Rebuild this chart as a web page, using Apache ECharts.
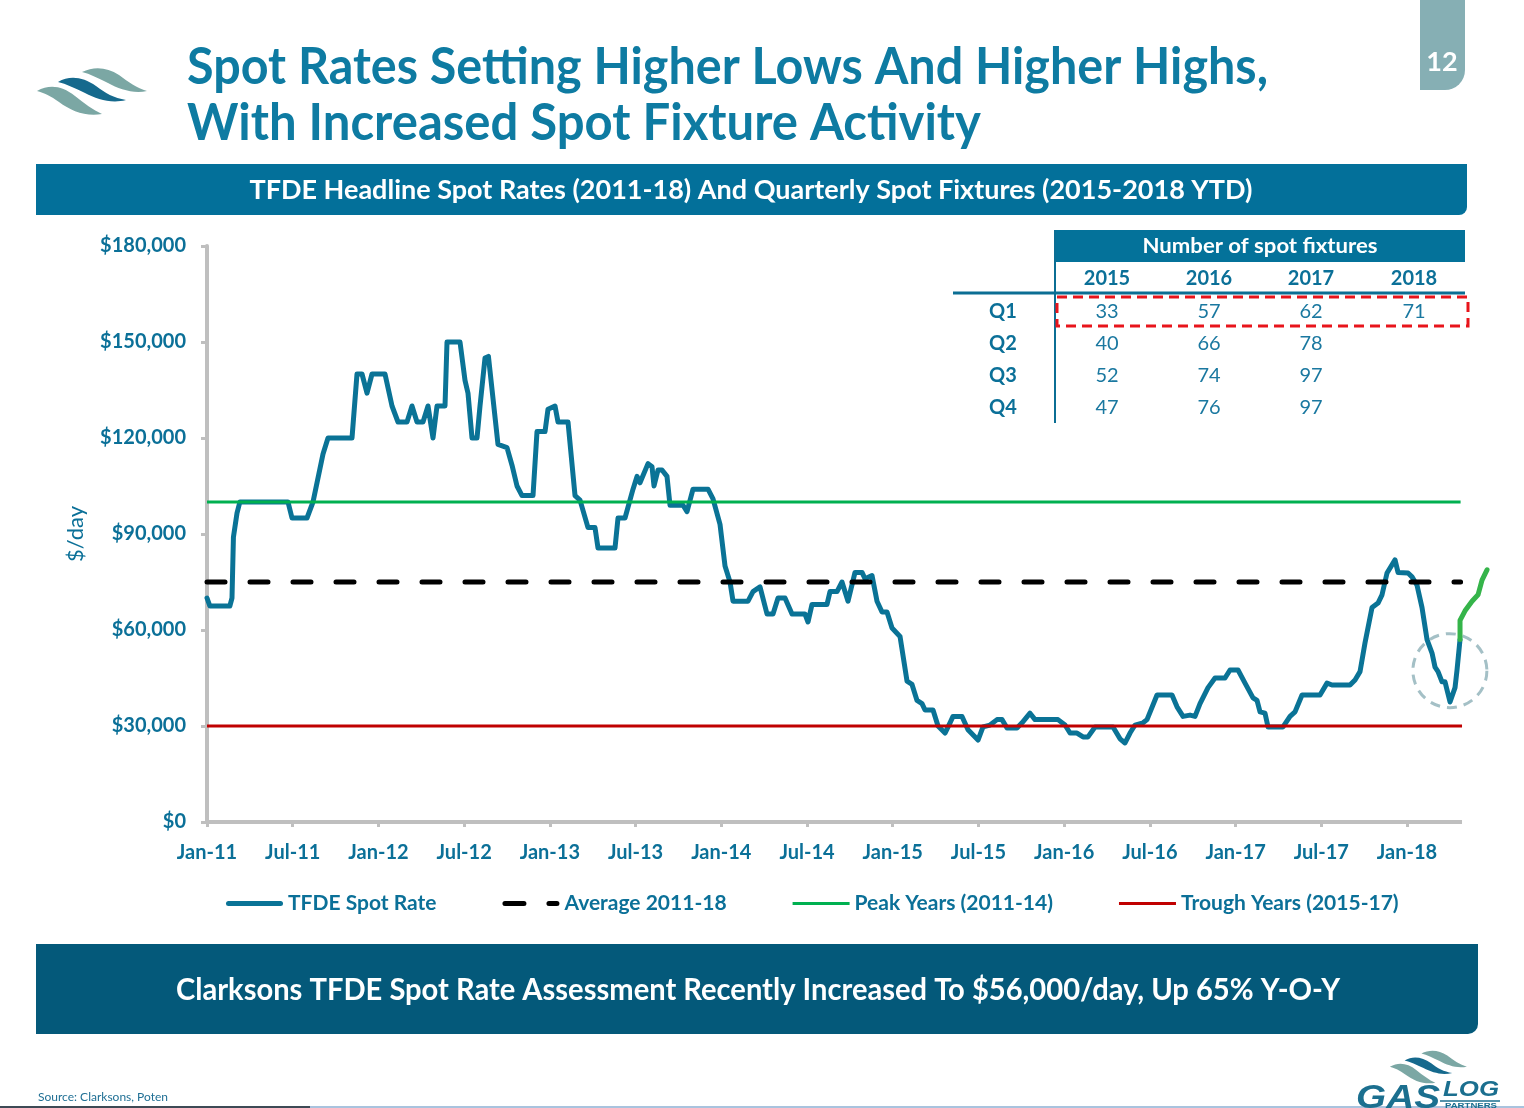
<!DOCTYPE html>
<html>
<head>
<meta charset="utf-8">
<script src="https://cdn.jsdelivr.net/npm/echarts@6/dist/echarts.min.js"></script>
<style>
html,body{margin:0;padding:0;background:#fff;}
#chart{width:1524px;height:1108px;}
</style>
</head>
<body>
<div id="chart"></div>
<script>
// ---------- DATA ----------
const titleLine1 = 'Spot Rates Setting Higher Lows And Higher Highs,';
const titleLine2 = 'With Increased Spot Fixture Activity';
const bannerText = 'TFDE Headline Spot Rates (2011-18) And Quarterly Spot Fixtures (2015-2018 YTD)';
const footerText = 'Clarksons TFDE Spot Rate Assessment Recently Increased To $56,000/day, Up 65% Y-O-Y';
const sourceText = 'Source: Clarksons, Poten';
const pageNumber = '12';

// x axis: months since Jan-2011
const xTickLabels = ['Jan-11','Jul-11','Jan-12','Jul-12','Jan-13','Jul-13','Jan-14','Jul-14','Jan-15','Jul-15','Jan-16','Jul-16','Jan-17','Jul-17','Jan-18'];
const yTickValues = [0, 30000, 60000, 90000, 120000, 150000, 180000];

const spotMonths = [0,0.2,1.6,1.75,1.85,2.1,2.3,5.67,5.95,7.0,7.42,8.12,8.47,10.15,10.5,10.85,11.2,11.55,12.46,12.95,13.37,14.0,14.35,14.7,15.12,15.47,15.82,16.1,16.66,16.8,17.71,18.06,18.27,18.55,18.9,19.11,19.46,19.7,20.37,21.0,21.35,21.7,22.05,22.82,23.1,23.66,23.87,24.36,24.57,25.27,25.76,26.11,26.67,27.16,27.37,28.56,28.77,29.26,29.82,30.1,30.31,30.87,31.15,31.29,31.57,31.85,32.2,32.41,33.32,33.6,34.02,35.07,35.42,35.91,36.26,36.61,36.82,37.87,38.22,38.71,39.2,39.62,39.97,40.46,40.95,41.86,42.07,42.35,43.4,43.61,44.1,44.45,44.87,45.36,45.85,46.06,46.55,46.9,47.25,47.6,47.95,48.51,49.0,49.35,49.7,50.05,50.26,50.82,51.17,51.66,52.01,52.22,52.85,53.27,53.97,54.32,54.81,55.3,55.65,56.0,56.7,57.05,57.61,57.96,59.57,60.06,60.41,60.9,61.32,61.67,62.16,63.42,63.91,64.26,64.61,64.96,65.52,65.8,66.5,67.55,67.9,68.32,68.81,69.16,69.51,70.07,70.56,71.26,71.61,72.17,72.66,73.22,73.5,73.71,74.06,74.27,75.32,75.81,76.16,76.65,77.91,78.4,78.75,80.01,80.36,80.71,81.06,81.55,81.97,82.25,82.6,83.16,83.37,84.07,84.35,84.7,85.05,85.4,85.75,85.96,86.17,86.45,86.66,87.01,87.36,87.5,87.71];
const spotValues = [70000,67500,67500,70000,89000,96500,100000,100000,95000,95000,100000,115000,120000,120000,140000,140000,134000,140000,140000,130000,125000,125000,130000,125000,125000,130000,120000,130000,130000,150000,150000,138000,134000,120000,120000,130000,145000,145500,118000,117000,111500,105000,102000,102000,122000,122000,129000,130000,125000,125000,102000,100600,92000,92000,85600,85600,95000,95000,104000,108000,106000,112000,111000,105000,110000,110000,108000,99000,99000,97000,104000,104000,101000,93000,80000,75000,69000,69000,72000,73500,65000,65000,70000,70000,65000,65000,62500,68000,68000,72000,72000,75000,69000,78000,78000,76000,77000,69000,65600,65600,60600,58000,44000,43000,38000,37000,35000,35000,30000,27800,31000,33000,33000,28800,25600,29700,30300,32000,32000,29400,29400,31000,34000,32000,32000,30300,27800,27800,26600,26600,29700,29700,26000,24700,27800,30300,31000,32000,39700,39700,36000,33000,33400,33000,37000,42000,45000,45000,47500,47500,43400,38800,38000,34400,34000,29700,29700,33000,34400,39700,39700,43400,42800,42800,44400,47000,56000,67000,68400,71000,77800,81900,78000,77800,76600,74000,67000,57000,52800,48400,47000,43800,43800,37500,42000,47500,57000];

// recent (2018 YTD) segment highlighted in green
const recentMonths = [87.71,87.71,88.06,88.55,88.97,89.25,89.6];
const recentValues = [57000,63000,66000,69000,71000,75600,78800];

const averageValue = 75000;   // Average 2011-18
const peakValue = 100000;     // Peak Years (2011-14)
const troughValue = 30000;    // Trough Years (2015-17)
const xStart = 0, lineEnd = 87.85, xEnd = 89.7;

const circleMonth = 87.0, circleValue = 47300;

// table: number of spot fixtures
const fixtureYears = ['2015','2016','2017','2018'];
const fixtureQuarters = ['Q1','Q2','Q3','Q4'];
const fixtures2015 = [33,40,52,47];
const fixtures2016 = [57,66,74,76];
const fixtures2017 = [62,78,97,97];
const fixtures2018 = [71];

const legendNames = ['TFDE Spot Rate','Average 2011-18','Peak Years (2011-14)','Trough Years (2015-17)'];

// ---------- STYLE ----------
const FONT = 'Lato, "Open Sans", sans-serif';
const TEAL = '#0b7098';
const TITLE = '#0e7ba2';
const LINE = '#0a7396';

const measureCtx = document.createElement('canvas').getContext('2d');
function fit(text, font, target) {
  measureCtx.font = font;
  return target / measureCtx.measureText(text).width;
}
function txt(x, y, text, o) {
  o = o || {};
  const fam = o.family || FONT;
  const el = {
    type: 'text', x: x, y: y, z: o.z || 10,
    style: {
      text: text, fontSize: o.size || 20, fontWeight: o.weight || 'normal', fontFamily: fam,
      fontStyle: o.italic ? 'italic' : 'normal',
      fill: o.color || TEAL, textAlign: o.align || 'left',
      textVerticalAlign: o.va || 'middle'
    }
  };
  if (o.fitWidth) {
    const f = (o.italic ? 'italic ' : '') + (o.weight || 'normal') + ' ' + (o.size || 20) + 'px ' + fam;
    el.scaleX = fit(text, f, o.fitWidth);
  }
  return el;
}

const zip = (a, b) => a.map((v, i) => [v, b[i]]);

// logo wave shapes registered as custom shapes
echarts.graphic.registerShape('waveLow', echarts.graphic.extendPath('M37,91 C50,84 62,86 75,96 C84,103 93,110 102,114 C86,117 71,111 59,102 C51,96 44,93 37,91 Z', {}));
echarts.graphic.registerShape('waveMid', echarts.graphic.extendPath('M58,82 C70,75 83,77 96,86 C105,93 114,98 126,100 C111,104 97,99 85,93 C75,88 66,84 58,82 Z', {}));
echarts.graphic.registerShape('waveTop', echarts.graphic.extendPath('M82,72 C94,66 107,67 119,75 C128,82 137,88 147,91 C133,94 119,89 108,83 C98,78 90,74 82,72 Z', {}));

// ---------- GRAPHICS ----------
const graphics = [];

function waves(dx, dy, s) {
  return {
    type: 'group', x: dx, y: dy, scaleX: s, scaleY: s,
    children: [
      { type: 'waveLow', shape: {}, style: { fill: '#7ba7a4' } },
      { type: 'waveMid', shape: {}, style: { fill: '#15698d' } },
      { type: 'waveTop', shape: {}, style: { fill: '#7ba7a4' } }
    ]
  };
}
graphics.push(waves(0, 0, 1));

// title
graphics.push(txt(187, 67, titleLine1, { size: 52, weight: 'bold', color: TITLE, fitWidth: 1081 }));
graphics.push(txt(187, 123, titleLine2, { size: 52, weight: 'bold', color: TITLE, fitWidth: 794 }));

// page number tab
graphics.push({ type: 'rect', shape: { x: 1420, y: 0, width: 45, height: 90, r: [0, 0, 20, 0] }, style: { fill: '#86afb4' } });
graphics.push(txt(1442, 62, pageNumber, { size: 27, weight: 'bold', color: '#ffffff', align: 'center' }));

// chart header banner
graphics.push({ type: 'rect', shape: { x: 36, y: 164, width: 1431, height: 51, r: [0, 0, 8, 0] }, style: { fill: '#03709a' } });
graphics.push(txt(751, 190, bannerText, { size: 27, weight: 'bold', color: '#ffffff', align: 'center', fitWidth: 1003 }));

// fixtures table
graphics.push({ type: 'rect', shape: { x: 1055, y: 230, width: 410, height: 32 }, style: { fill: '#04729a' } });
graphics.push(txt(1260, 246, 'Number of spot fixtures', { size: 21, weight: 'bold', color: '#ffffff', align: 'center', fitWidth: 235 }));
const colX = [1107, 1209, 1311, 1414];
const rowY = [312, 344, 376, 408];
fixtureYears.forEach((y, i) => graphics.push(txt(colX[i], 279, y, { size: 20, weight: 'bold', align: 'center' })));
fixtureQuarters.forEach((q, i) => graphics.push(txt(1003, rowY[i], q, { size: 20, weight: 'bold', align: 'center' })));
[fixtures2015, fixtures2016, fixtures2017, fixtures2018].forEach((arr, c) => {
  arr.forEach((v, r) => graphics.push(txt(colX[c], rowY[r], String(v), { size: 20, color: '#1a78a0', align: 'center' })));
});
graphics.push({ type: 'line', shape: { x1: 953, y1: 293, x2: 1465, y2: 293 }, style: { stroke: '#0b6e94', lineWidth: 3 } });
graphics.push({ type: 'line', shape: { x1: 1055, y1: 230, x2: 1055, y2: 423 }, style: { stroke: '#0b6e94', lineWidth: 2 } });
graphics.push({ type: 'rect', shape: { x: 1057, y: 297, width: 411, height: 29 }, style: { fill: 'none', stroke: '#e8141b', lineWidth: 3, lineDash: [10, 6] } });

// footer banner
graphics.push({ type: 'rect', shape: { x: 36, y: 944, width: 1442, height: 90, r: [0, 0, 10, 0] }, style: { fill: '#04597a' } });
graphics.push(txt(758, 990, footerText, { size: 30, weight: 'bold', color: '#ffffff', align: 'center', fitWidth: 1164 }));

// source
graphics.push(txt(38, 1097, sourceText, { size: 12, color: '#1f6f94' }));

// bottom rule
graphics.push({ type: 'line', shape: { x1: 0, y1: 1107, x2: 310, y2: 1107 }, style: { stroke: '#3e4a55', lineWidth: 2 } });
graphics.push({ type: 'line', shape: { x1: 310, y1: 1107, x2: 1524, y2: 1107 }, style: { stroke: '#a9c3de', lineWidth: 2 } });

// GasLog Partners logo (bottom-right)
graphics.push(waves(1364, 1003, 0.7));
graphics.push(txt(1356, 1116, 'GAS', { size: 34, weight: 'bold', italic: true, family: '"Liberation Sans", sans-serif', color: '#1b6f8f', va: 'bottom', fitWidth: 84 }));
graphics.push(txt(1443, 1101, 'LOG', { size: 22, weight: 'bold', italic: true, family: '"Liberation Sans", sans-serif', color: '#1b6f8f', va: 'bottom', fitWidth: 56 }));
graphics.push({ type: 'line', shape: { x1: 1440, y1: 1101, x2: 1500, y2: 1101 }, style: { stroke: '#1b6f8f', lineWidth: 1.5 } });
graphics.push(txt(1445, 1106, 'PARTNERS', { size: 7, weight: 'bold', family: '"Liberation Sans", sans-serif', color: '#1b6f8f', fitWidth: 52 }));

// ---------- CHART ----------
const chart = echarts.init(document.getElementById('chart'));
const axisGray = '#bfbfbf';
const xTickVals = xTickLabels.map((_, i) => i * 6);
const gridLeft = 207, pxPerMonth = 14.286;

const option = {
  animation: false,
  backgroundColor: '#ffffff',
  grid: { left: gridLeft, right: 1524 - gridLeft - xEnd * pxPerMonth, top: 246, bottom: 286 },
  xAxis: {
    type: 'value', min: xStart, max: xEnd, interval: 6,
    axisLine: { show: false },
    axisTick: { show: true, length: 5, lineStyle: { color: axisGray, width: 3 }, customValues: xTickVals },
    splitLine: { show: false },
    axisLabel: {
      customValues: xTickVals,
      formatter: v => xTickLabels[Math.round(v / 6)] || '',
      color: TEAL, fontFamily: FONT, fontWeight: 'bold', fontSize: 20, margin: 21
    }
  },
  yAxis: {
    type: 'value', min: yTickValues[0], max: yTickValues[yTickValues.length - 1], interval: 30000,
    name: '$/day', nameLocation: 'middle', nameGap: 120, nameRotate: 90,
    nameTextStyle: { color: TEAL, fontFamily: FONT, fontSize: 22 },
    axisLine: { show: true, lineStyle: { color: axisGray, width: 4 } },
    axisTick: { show: true, length: 6, lineStyle: { color: axisGray, width: 3 } },
    splitLine: { show: false },
    axisLabel: {
      formatter: v => '$' + v.toLocaleString('en-US'),
      color: TEAL, fontFamily: FONT, fontWeight: 'bold', fontSize: 20, margin: 21
    }
  },
  legend: {
    left: 226, top: 893, padding: 0, itemGap: 66, itemWidth: 57, itemHeight: 5,
    textStyle: { color: TEAL, fontFamily: FONT, fontWeight: 'bold', fontSize: 21 },
    data: [
      { name: legendNames[0], icon: 'path://M2.5,0 H54.5 A2.5,2.5 0 0 1 54.5,5 H2.5 A2.5,2.5 0 0 1 2.5,0 Z', itemStyle: { color: LINE, borderWidth: 0 } },
      { name: legendNames[1], icon: 'path://M2.5,0 H21.5 A2.5,2.5 0 0 1 21.5,5 H2.5 A2.5,2.5 0 0 1 2.5,0 Z M46.5,0 H54.5 A2.5,2.5 0 0 1 54.5,5 H46.5 A2.5,2.5 0 0 1 46.5,0 Z', itemStyle: { color: '#000000', borderWidth: 0 } },
      { name: legendNames[2], icon: 'path://M0,0 H57 V3 H0 Z', itemStyle: { color: '#00b050', borderWidth: 0 } },
      { name: legendNames[3], icon: 'path://M0,0 H57 V3 H0 Z', itemStyle: { color: '#c00000', borderWidth: 0 } }
    ]
  },
  graphic: { elements: graphics },
  series: [
    {
      name: 'x-axis baseline', type: 'line', data: [[xStart, 0], [lineEnd, 0]], silent: true,
      showSymbol: false, symbol: 'none', color: axisGray, z: 1, clip: false,
      lineStyle: { color: axisGray, width: 4 }
    },
    {
      name: legendNames[0], type: 'line', data: zip(spotMonths, spotValues),
      showSymbol: false, symbol: 'none', color: LINE, z: 3,
      lineStyle: { color: LINE, width: 5, cap: 'round', join: 'round' }
    },
    {
      name: 'Recent', type: 'line', data: zip(recentMonths, recentValues),
      showSymbol: false, symbol: 'none', color: '#35b44a', z: 4,
      lineStyle: { color: '#35b44a', width: 5, cap: 'round', join: 'round' }
    },
    {
      name: legendNames[2], type: 'line', data: [[xStart, peakValue], [lineEnd - 0.1, peakValue]],
      showSymbol: false, symbol: 'none', color: '#00b050', z: 5,
      lineStyle: { color: '#00b050', width: 3 }
    },
    {
      name: legendNames[3], type: 'line', data: [[xStart, troughValue], [lineEnd, troughValue]],
      showSymbol: false, symbol: 'none', color: '#c00000', z: 5,
      lineStyle: { color: '#c00000', width: 3 }
    },
    {
      name: legendNames[1], type: 'line', data: [[xStart, averageValue], [lineEnd - 0.1, averageValue]],
      showSymbol: false, symbol: 'none', color: '#000000', z: 6,
      lineStyle: { color: '#000000', width: 5, type: [18, 25], cap: 'round' }
    },
    {
      name: 'Highlight', type: 'scatter', data: [[circleMonth, circleValue]], symbol: 'circle', symbolSize: 74,
      clip: false, z: 2,
      itemStyle: { color: 'rgba(0,0,0,0)', borderColor: '#8db0b8', borderWidth: 3, borderType: [10, 7] }
    }
  ]
};
chart.setOption(option);
</script>
</body>
</html>
